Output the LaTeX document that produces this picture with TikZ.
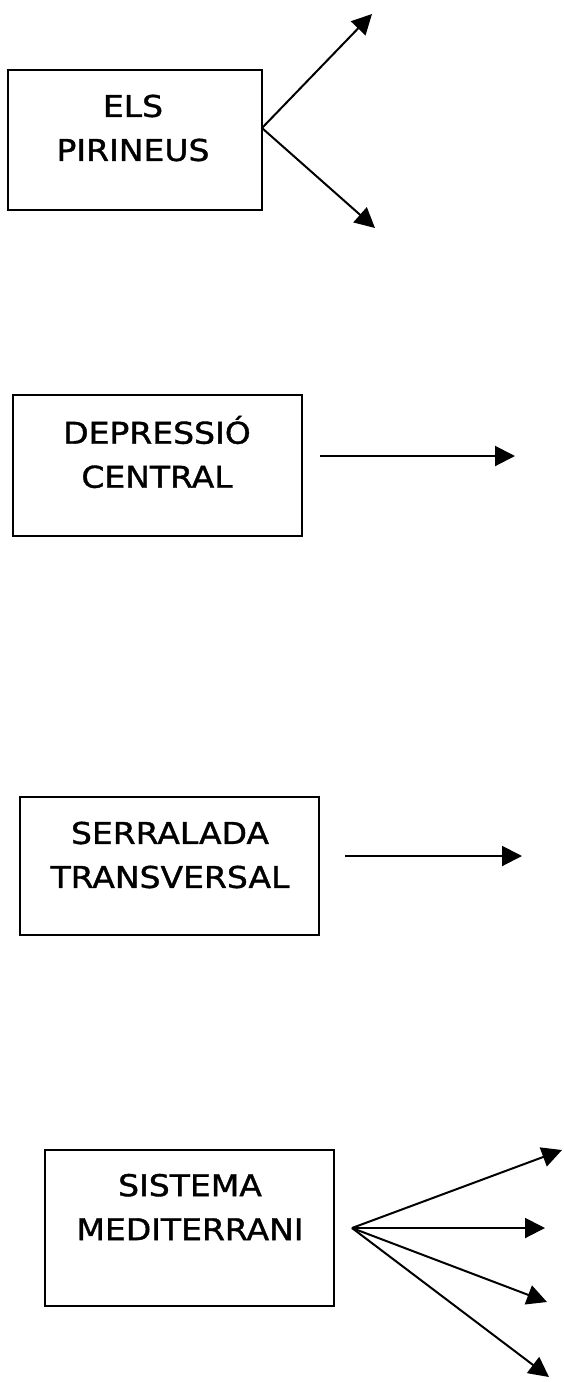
\documentclass[tikz,border=0pt]{standalone}
\usepackage{fontspec}
\setmainfont{DejaVu Sans}[FakeStretch=1.1,FakeBold=1.2]
\usetikzlibrary{arrows.meta}
\begin{document}
\begin{tikzpicture}[x=1pt,y=-1pt,
  boxnode/.style={draw, line width=2pt, inner sep=0pt},
  txt/.style={align=center, font=\fontsize{30}{44}\selectfont, inner sep=0pt},
  conn/.style={line width=2pt, -{Triangle[length=20pt,width=20pt]}}]
\useasboundingbox (0,0) rectangle (564,1382);
% boxes
\node[boxnode, minimum width=254pt, minimum height=140pt] (b1) at (135,140) {};
\node[boxnode, minimum width=289pt, minimum height=141pt] (b2) at (157.5,465.5) {};
\node[boxnode, minimum width=299pt, minimum height=138pt] (b3) at (169.5,866) {};
\node[boxnode, minimum width=289pt, minimum height=156pt] (b4) at (189.5,1228) {};
% texts
\node[txt] (t1) at (133,128) {ELS\\PIRINEUS};
\node[txt] (t2) at (157,452) {DEPRESSIÓ\\CENTRAL};
\node[txt] (t3) at (170,855) {SERRALADA\\TRANSVERSAL};
\node[txt] (t4) at (190,1207) {SISTEMA\\MEDITERRANI};
% arrow points
\coordinate (s1) at (262,128);
\coordinate (e1a) at (372,14);
\coordinate (e1b) at (375,228);
\coordinate (s2) at (320,456);
\coordinate (e2) at (515,456);
\coordinate (s3) at (345,856);
\coordinate (e3) at (522,856);
\coordinate (s4) at (352,1228);
\coordinate (e4a) at (562,1150);
\coordinate (e4b) at (545,1228);
\coordinate (e4c) at (547,1302);
\coordinate (e4d) at (549,1377);
% arrows
\draw[conn] (s1) -- (e1a);
\draw[conn] (s1) -- (e1b);
\draw[conn] (s2) -- (e2);
\draw[conn] (s3) -- (e3);
\draw[conn] (s4) -- (e4a);
\draw[conn] (s4) -- (e4b);
\draw[conn] (s4) -- (e4c);
\draw[conn] (s4) -- (e4d);
\end{tikzpicture}
\end{document}
